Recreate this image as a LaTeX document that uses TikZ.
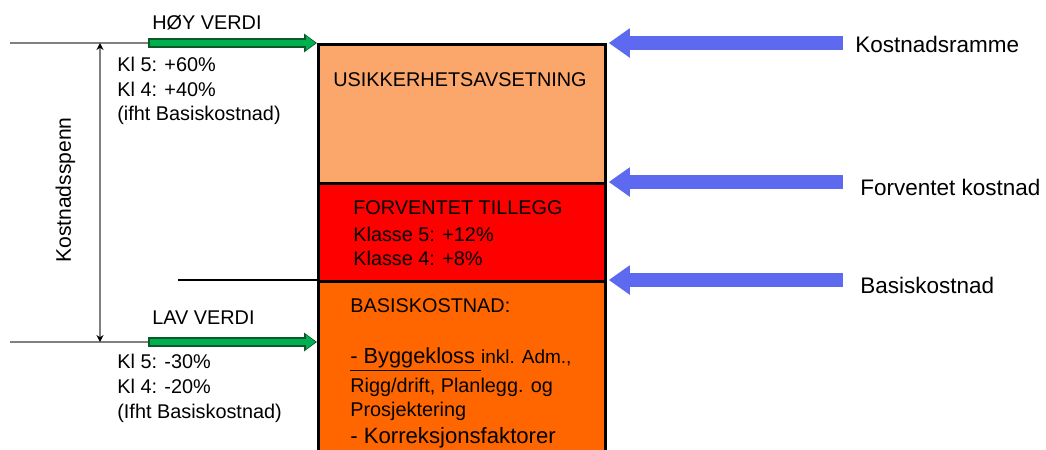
\documentclass[tikz,border=0pt]{standalone}
\usepackage{fontspec}
\setmainfont{Liberation Sans}
\usetikzlibrary{arrows.meta,positioning}

\definecolor{lysoransje}{RGB}{251,166,106}
\definecolor{rod}{RGB}{255,0,0}
\definecolor{oransje}{RGB}{255,102,0}
\definecolor{gronn}{RGB}{0,176,80}
\definecolor{morkgronn}{RGB}{10,90,40}
\definecolor{blaa}{RGB}{93,106,240}
\definecolor{graa}{RGB}{128,128,128}

\tikzset{
	kostboks/.style={draw=black,line width=1.6pt,anchor=north west,minimum width=5.74cm,inner sep=0pt},
	tekst/.style={font=\fontsize{11.3}{14}\selectfont,anchor=base west,inner sep=0pt},
	stortekst/.style={font=\fontsize{12.8}{15}\selectfont,anchor=base west,inner sep=0pt},
	blapil/.style={blaa,line width=0.28cm,-{Triangle[width=0.56cm,length=0.42cm]}},
	gronnkant/.style={morkgronn,line width=0.19cm,-{Triangle[width=0.36cm,length=0.26cm]}},
	gronnpil/.style={gronn,line width=0.13cm,-{Triangle[width=0.27cm,length=0.19cm]}},
	graalinje/.style={graa,line width=0.8pt}
}

\begin{document}
\begin{tikzpicture}[x=0.02cm,y=-0.02cm]
		\clip (0,0) rectangle (1046,450);

		% boksene
		\node[kostboks,fill=oransje,minimum height=3.8cm] (basis) at (317,280) {};
		\node[kostboks,fill=rod,minimum height=1.96cm] (tillegg) at (317,182) {};
		\node[kostboks,fill=lysoransje,minimum height=2.78cm] (usikker) at (317,43) {};

		\node[tekst,anchor=base] at (460,86) {USIKKERHETSAVSETNING};
		\node[tekst] at (353,214) {FORVENTET TILLEGG};
		\node[tekst] at (353,241) {Klasse 5: +12\%};
		\node[tekst] at (353,265) {Klasse 4: +8\%};
		\node[tekst] at (350,312) {BASISKOSTNAD:};
		\node[tekst] at (350,363) {{\fontsize{12.4}{15}\selectfont\underline{- Byggekloss }}{\fontsize{10.8}{14}\selectfont inkl. Adm.,}};
		\node[tekst] at (350,392) {Rigg/drift, Planlegg. og};
		\node[tekst] at (350,416) {Prosjektering};
		\node[tekst] at (350,443) {{\fontsize{12.6}{15}\selectfont - \underline{Korreksjonsfaktorer}}};

		% venstre side
		\coordinate (hoystart) at (148,43);
		\coordinate (lavstart) at (148,342);
		\coordinate (spenntopp) at (100,43);
		\coordinate (spennbunn) at (100,342);
		\coordinate (basislinje) at (178,280);
		\draw[graalinje] (10,43) -- (hoystart);
		\draw[graalinje] (10,342) -- (lavstart);
		\draw[graalinje,{Stealth[length=4pt,width=4pt,black]}-{Stealth[length=4pt,width=4pt,black]}] (spenntopp) -- (spennbunn);
		\draw[gronnkant] (hoystart) -- (usikker.north west);
		\draw[gronnpil] ([xshift=0.03cm]hoystart) -- ([xshift=-0.03cm]usikker.north west);
		\draw[gronnkant] (lavstart) -- (lavstart -| basis.west);
		\draw[gronnpil] ([xshift=0.03cm]lavstart) -- ([xshift=-0.03cm]lavstart -| basis.west);
		\draw[line width=1.5pt] (basislinje) -- (basis.north west);

		\node[tekst,anchor=base,rotate=90,font=\fontsize{12}{14}\selectfont] (spenn) at (71,190) {Kostnadsspenn};
		\node[tekst] (hoy) at (152,29) {HØY VERDI};
		\node[tekst] at (117,71) {Kl 5: +60\%};
		\node[tekst] at (117,96) {Kl 4: +40\%};
		\node[tekst] at (117,120) {(ifht Basiskostnad)};
		\node[tekst] (lav) at (152,324) {LAV VERDI};
		\node[tekst] at (117,368) {Kl 5: -30\%};
		\node[tekst] at (117,393) {Kl 4: -20\%};
		\node[tekst] at (117,418) {(Ifht Basiskostnad)};

		% høyre side
		\node[stortekst] (ramme) at (855,52) {Kostnadsramme};
		\node[stortekst] (forventet) at (860,195) {Forventet kostnad};
		\node[stortekst] (basiskost) at (860,293) {Basiskostnad};
		\draw[blapil] ([xshift=-0.24cm]ramme.base west |- usikker.north east) -- ([xshift=0.04cm]usikker.north east);
		\draw[blapil] ([xshift=-0.34cm]forventet.base west |- tillegg.north east) -- ([xshift=0.04cm]tillegg.north east);
		\draw[blapil] ([xshift=-0.34cm]basiskost.base west |- basis.north east) -- ([xshift=0.04cm]basis.north east);
	\end{tikzpicture}
\end{document}
